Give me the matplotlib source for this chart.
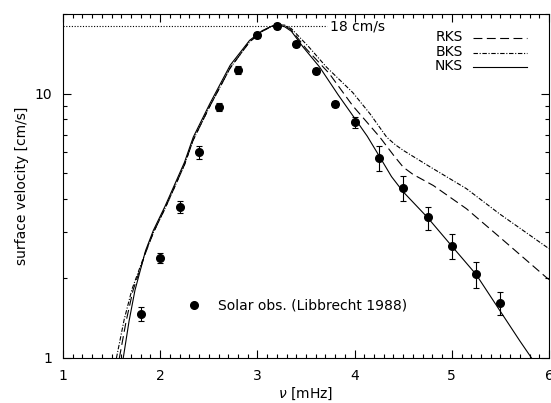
import numpy as np
import matplotlib.pyplot as plt
from matplotlib.ticker import FixedLocator, NullFormatter, MultipleLocator

# Solar observations (Libbrecht 1988)
obs_nu = [1.80, 2.00, 2.20, 2.40, 2.60, 2.80, 3.00, 3.20, 3.40, 3.60, 3.80, 4.00, 4.25, 4.50, 4.75, 5.00, 5.25, 5.50]
obs_v = [1.47, 2.39, 3.72, 6.00, 8.88, 12.3, 16.65, 17.95, 15.4, 12.2, 9.15, 7.79, 5.72, 4.39, 3.40, 2.65, 2.07, 1.62]
obs_err = [0.09, 0.11, 0.20, 0.32, 0.31, 0.44, 0.44, 0.47, 0.41, 0.32, 0.24, 0.35, 0.63, 0.48, 0.34, 0.29, 0.23, 0.16]

# model curves
nks_nu = [1.62, 1.68, 1.74, 1.85, 1.93, 2.05, 2.13, 2.25, 2.34, 2.51, 2.72, 2.92, 3.05, 3.15, 3.20,
          3.28, 3.35, 3.47, 3.64, 3.83, 3.98, 4.13, 4.26, 4.38, 4.50, 4.75, 5.00, 5.25, 5.50, 5.70, 5.82]
nks_v = [1.00, 1.38, 1.80, 2.55, 3.04, 3.75, 4.37, 5.50, 6.84, 9.15, 12.8, 15.9, 17.3, 18.0, 18.2,
         17.9, 17.2, 15.0, 12.6, 9.9, 8.27, 6.9, 5.75, 4.85, 4.25, 3.40, 2.65, 2.07, 1.50, 1.16, 1.00]

rks_nu = [1.58, 1.65, 1.72, 1.85, 1.93, 2.05, 2.13, 2.25, 2.34, 2.51, 2.72, 2.92, 3.05, 3.15, 3.20,
          3.28, 3.35, 3.50, 3.74, 3.98, 4.26, 4.40, 4.50, 4.60, 4.81, 5.15, 5.49, 5.97, 6.00]
rks_v = [1.00, 1.38, 1.80, 2.50, 2.98, 3.68, 4.28, 5.38, 6.68, 8.95, 12.5, 15.7, 17.2, 18.0, 18.2,
         18.1, 17.4, 14.8, 11.9, 9.0, 6.84, 5.85, 5.27, 4.95, 4.49, 3.67, 2.87, 2.02, 1.98]

bks_nu = [1.55, 1.63, 1.71, 1.85, 1.93, 2.05, 2.13, 2.25, 2.34, 2.51, 2.72, 2.92, 3.05, 3.15, 3.20,
          3.28, 3.35, 3.53, 3.71, 3.98, 4.16, 4.33, 4.42, 4.50, 4.77, 5.15, 5.49, 6.00]
bks_v = [1.00, 1.40, 1.82, 2.52, 2.98, 3.68, 4.28, 5.38, 6.68, 8.95, 12.5, 15.7, 17.2, 18.0, 18.2,
         18.15, 17.6, 15.0, 12.6, 10.1, 8.37, 6.84, 6.40, 6.10, 5.30, 4.37, 3.51, 2.59]

v_max = 18

fig = plt.figure(figsize=(5.51, 4.03), dpi=100)
ax = fig.add_axes([0.1143, 0.1117, 0.8821, 0.8536])

lw = 0.8
ax.plot(nks_nu, nks_v, color='black', lw=lw)
ax.plot(rks_nu, rks_v, color='black', lw=lw, dashes=(8, 4))
ax.plot(bks_nu, bks_v, color='black', lw=lw, dashes=(4, 1.5, 1, 1.5))

ax.errorbar(obs_nu, obs_v, yerr=obs_err, fmt='o', color='black', ms=5.5,
            capsize=2.5, elinewidth=lw, capthick=lw)

# 18 cm/s reference line
ax.plot([1, 3.72], [v_max, v_max], color='black', lw=lw, dashes=(1, 1.5))
ax.text(3.75, v_max, '18 cm/s', fontsize=10, va='center', ha='left')

# legend drawn by hand
rows = [('RKS', (8, 4)), ('BKS', (4, 1.5, 1, 1.5)), ('NKS', None)]
ys = [0.933, 0.890, 0.849]
for (name, ds), yy in zip(rows, ys):
    ax.text(0.822, yy, name, transform=ax.transAxes, fontsize=10, ha='right', va='center')
    line, = ax.plot([0.844, 0.954], [yy - 0.004, yy - 0.004], transform=ax.transAxes, color='black', lw=lw)
    if ds is not None:
        line.set_dashes(ds)
ax.plot([0.270], [0.154], 'o', color='black', ms=5.5, transform=ax.transAxes)
ax.text(0.319, 0.154, 'Solar obs. (Libbrecht 1988)', transform=ax.transAxes, fontsize=10, va='center')

ax.set_yscale('log')
ax.set_xlim(1, 6)
ax.set_ylim(1, 20)
ax.xaxis.set_major_locator(MultipleLocator(1))
ax.xaxis.set_minor_locator(MultipleLocator(0.1))
ax.yaxis.set_major_locator(FixedLocator([1, 10]))
ax.yaxis.set_minor_locator(FixedLocator([2, 3, 4, 5, 6, 7, 8, 9, 20]))
ax.yaxis.set_minor_formatter(NullFormatter())
ax.set_yticklabels(['1', '10'])
ax.tick_params(which='both', direction='in', top=True, right=True, width=lw, labelsize=10)
ax.tick_params(which='major', length=5.5, pad=8)
ax.tick_params(which='minor', length=3)
for s in ax.spines.values():
    s.set_linewidth(lw)

ax.set_xlabel(r'$\nu$ [mHz]', fontsize=10, labelpad=2)
ax.set_ylabel('surface velocity [cm/s]', fontsize=10, labelpad=4)

plt.savefig('out.png', dpi=100)
